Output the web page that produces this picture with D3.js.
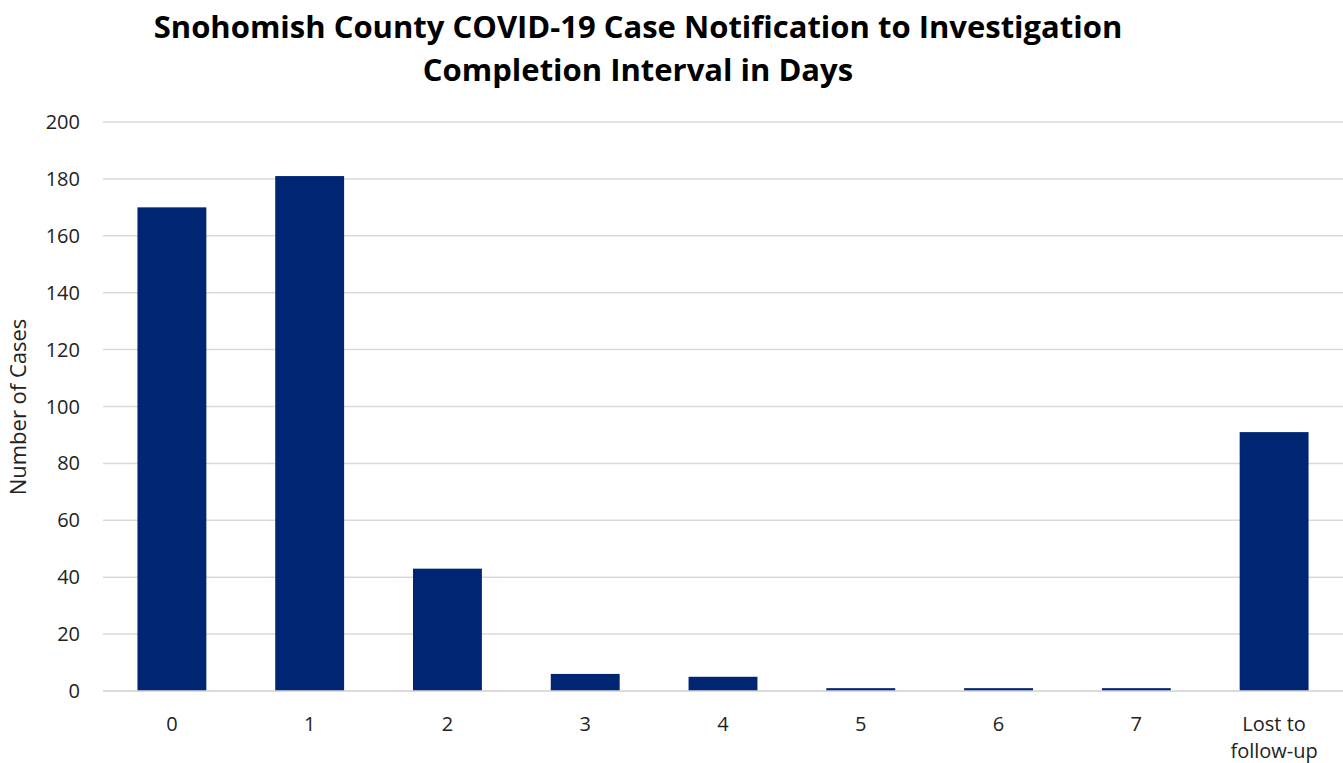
<!DOCTYPE html>
<html><head><meta charset="utf-8">
<script src="https://cdn.jsdelivr.net/npm/d3@7"></script>
<style>body{margin:0;background:#fff;} text{font-family:"Open Sans","Liberation Sans",sans-serif;}</style>
</head><body>
<svg id="chart" width="1343" height="763"></svg>
<script>
const categories = ["0","1","2","3","4","5","6","7","Lost to follow-up"];
const cases = [170,181,43,6,5,1,1,1,91];
const yTicks = [0,20,40,60,80,100,120,140,160,180,200];
const titleLines = ["Snohomish County COVID-19 Case Notification to Investigation","Completion Interval in Days"];

const svg = d3.select("#chart");
const m = {left:103, right:0, top:122, bottom:72};
const W = 1343, H = 763;
const x = d3.scaleBand().domain(categories).range([m.left, W-m.right]).paddingInner(0.5).paddingOuter(0.25);
const y = d3.scaleLinear().domain([0,200]).range([H-m.bottom, m.top]);

svg.append("g").selectAll("line").data(yTicks).join("line")
  .attr("x1", m.left).attr("x2", W-m.right)
  .attr("y1", d=>y(d)).attr("y2", d=>y(d))
  .attr("stroke","#d9d9d9").attr("stroke-width",1.5);

svg.append("g").selectAll("text").data(yTicks).join("text")
  .attr("x", 80).attr("y", d=>y(d)).attr("dy","0.35em")
  .attr("text-anchor","end").attr("font-size",20).attr("fill","#222")
  .text(d=>d);

svg.append("g").selectAll("rect").data(categories).join("rect")
  .attr("x", d=>x(d)).attr("width", x.bandwidth())
  .attr("y", (d,i)=>y(cases[i])).attr("height",(d,i)=>y(0)-y(cases[i]))
  .attr("fill","#002673");

svg.append("line").attr("x1",m.left).attr("x2",W-m.right).attr("y1",y(0)).attr("y2",y(0))
  .attr("stroke","#d9d9d9").attr("stroke-width",1.5);

const xl = svg.append("g").selectAll("text").data(categories).join("text")
  .attr("x", d=>x(d)+x.bandwidth()/2).attr("y", 731)
  .attr("text-anchor","middle").attr("font-size",20).attr("fill","#222");
xl.each(function(d){
  const t = d3.select(this);
  if (d === "Lost to follow-up") {
    t.append("tspan").attr("x", x(d)+x.bandwidth()/2).attr("y",731).text("Lost to");
    t.append("tspan").attr("x", x(d)+x.bandwidth()/2).attr("y",758).text("follow-up");
  } else t.text(d);
});

svg.append("text").attr("transform","translate(26,407) rotate(-90)")
  .attr("text-anchor","middle").attr("font-size",22).attr("fill","#222").text("Number of Cases");

svg.append("g").selectAll("text").data(titleLines).join("text")
  .attr("x",638).attr("y",(d,i)=>38+i*43).attr("text-anchor","middle")
  .attr("font-size",31).attr("font-weight","bold").attr("fill","#000").text(d=>d);
</script>
</body></html>
